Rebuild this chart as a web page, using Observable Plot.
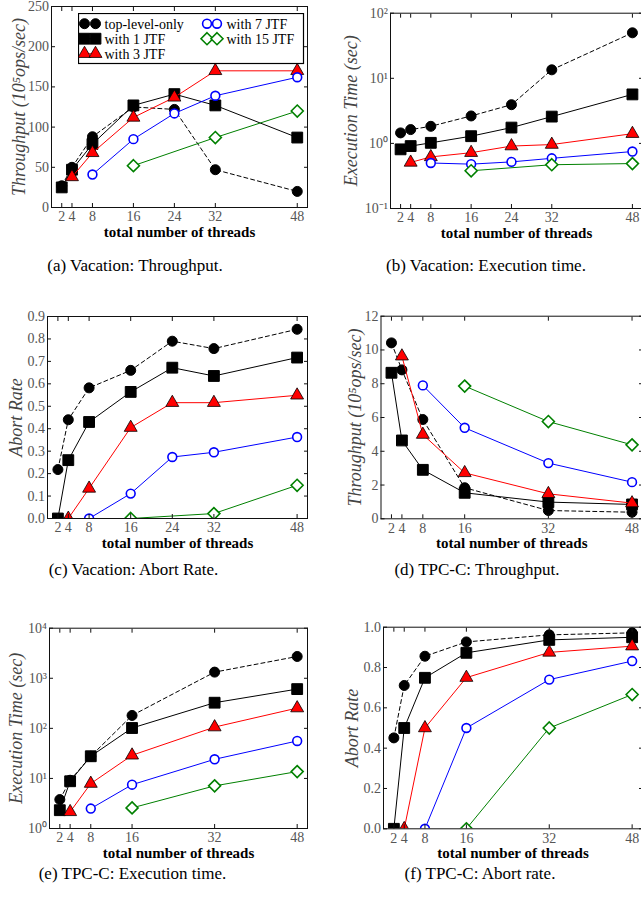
<!DOCTYPE html>
<html><head><meta charset="utf-8">
<script src="https://cdn.jsdelivr.net/npm/d3@7"></script>
<script src="https://cdn.jsdelivr.net/npm/@observablehq/plot@0.6"></script>
<style>
html,body{margin:0;padding:0;background:#fff;overflow:hidden;}
#root{position:relative;width:641px;height:897px;overflow:hidden;background:#fff;}
.cap{position:absolute;font-family:"Liberation Serif","Times New Roman",serif;font-size:17px;color:#000;transform:translate(-50%,-50%);white-space:nowrap;}
</style></head>
<body><div id="root"></div>
<script>
// ---------- data ----------
const seriesNames = ["top-level-only", "with 1 JTF", "with 3 JTF", "with 7 JTF", "with 15 JTF"];
const vacThreads = [2, 4, 8, 16, 24, 32, 48];
const tpccThreads = [2, 4, 8, 16, 32, 48];

// Vacation throughput (10^5 ops/sec)
const vacThroughput = [
  [27, 50, 88, 125, 122, 47, 20],
  [25, 47, 79, 127, 141, 127, 87],
  [null, 38, 68, 112, 137, 170, 170],
  [null, null, 41, 85, 117, 139, 162],
  [null, null, null, 52, null, 87, 120]
];
// Vacation execution time (sec)
const vacTime = [
  [1.45, 1.63, 1.83, 2.64, 3.93, 13.5, 50],
  [0.81, 0.91, 1.02, 1.29, 1.75, 2.58, 5.66],
  [null, 0.51, 0.62, 0.72, 0.91, 0.96, 1.41],
  [null, null, 0.50, 0.48, 0.52, 0.59, 0.75],
  [null, null, null, 0.38, null, 0.47, 0.49]
];
// Vacation abort rate
const vacAbort = [
  [0.218, 0.44, 0.582, 0.66, 0.79, 0.757, 0.843],
  [0, 0.26, 0.43, 0.564, 0.672, 0.635, 0.717],
  [null, 0, 0.134, 0.405, 0.516, 0.516, 0.549],
  [null, null, 0, 0.111, 0.274, 0.295, 0.363],
  [null, null, null, 0, null, 0.022, 0.148]
];
// TPC-C throughput (10^5 ops/sec)
const tpccThroughput = [
  [10.42, 8.82, 5.88, 1.84, 0.49, 0.39],
  [8.65, 4.64, 2.9, 1.54, 0.99, 0.85],
  [null, 9.63, 4.99, 2.72, 1.48, 0.93],
  [null, null, 7.9, 5.39, 3.3, 2.17],
  [null, null, null, 7.86, 5.76, 4.38]
];
// TPC-C execution time (sec)
const tpccTime = [
  [3.78, 9.2, 27.7, 181, 1327, 2724],
  [2.32, 8.78, 27.7, 101.6, 325, 608],
  [null, 2.15, 7.9, 29, 106, 254],
  [null, null, 2.5, 7.5, 24.1, 56],
  [null, null, null, 2.58, 7.1, 13.7]
];
// TPC-C abort rate
const tpccAbort = [
  [0.451, 0.711, 0.856, 0.927, 0.962, 0.972],
  [0, 0.5, 0.749, 0.873, 0.937, 0.95],
  [null, 0, 0.5, 0.75, 0.875, 0.906],
  [null, null, 0, 0.5, 0.74, 0.832],
  [null, null, null, 0, 0.5, 0.666]
];

const linTicks250 = [0, 50, 100, 150, 200, 250];
const logTicksVac = [0.1, 1, 10, 100];
const abortTicksVac = [0, 0.1, 0.2, 0.3, 0.4, 0.5, 0.6, 0.7, 0.8, 0.9];
const linTicks12 = [0, 2, 4, 6, 8, 10, 12];
const logTicksTpcc = [1, 10, 100, 1000, 10000];
const abortTicksTpcc = [0, 0.2, 0.4, 0.6, 0.8, 1.0];

const captions = [
  "(a) Vacation: Throughput.", "(b) Vacation: Execution time.",
  "(c) Vacation: Abort Rate.", "(d) TPC-C: Throughput.",
  "(e) TPC-C: Execution time.", "(f) TPC-C: Abort rate."
];

// ---------- styles ----------
const styles = [
  {stroke: "#000", dash: "4,3", symbol: "circle", fill: "#000", mstroke: "#000", r: 5, msw: 1},
  {stroke: "#000", dash: null, symbol: "square", fill: "#000", mstroke: "#000", r: 6.1, msw: 1},
  {stroke: "#ff0000", dash: null, symbol: "triangle", fill: "#ff0000", mstroke: "#000", r: 4.8, msw: 0.8},
  {stroke: "#0000ff", dash: null, symbol: "circle", fill: "#fff", mstroke: "#0000ff", r: 4.4, msw: 1.6},
  {stroke: "#008000", dash: null, symbol: "diamond2", fill: "#fff", mstroke: "#008000", r: 5.4, msw: 1.6}
];

const sup = {"0":"⁰","1":"¹","2":"²","3":"³","4":"⁴","-":"⁻"};
const logFmt = v => "10" + String(Math.round(Math.log10(v))).split("").map(c => sup[c]).join("");

const root = document.getElementById("root");
const FONT = '"Liberation Serif","Times New Roman",serif';

function panel(o) {
  const rows = [];
  o.values.forEach((arr, s) => arr.forEach((v, i) => {
    if (v != null) rows.push({s, name: seriesNames[s], x: o.threads[i], y: v});
  }));
  const marks = [];
  styles.forEach((st, s) => {
    const d = rows.filter(r => r.s === s);
    marks.push(Plot.line(d, {x: "x", y: "y", stroke: st.stroke, strokeWidth: 1, strokeDasharray: st.dash, clip: true}));
    marks.push(Plot.dot(d, {x: "x", y: "y", symbol: st.symbol, r: st.r, fill: st.fill, stroke: st.mstroke, strokeWidth: st.msw, clip: true}));
  });
  marks.push(
    Plot.frame({stroke: "#111", strokeWidth: 1}),
    Plot.axisX({ticks: o.threads, tickSize: -4, tickPadding: 8, tickFormat: d3.format("d"), label: null, fill: "#555", stroke: "#111", fontSize: 14}),
    Plot.axisX({anchor: "top", ticks: o.threads, tickSize: -4, tickFormat: () => "", label: null, stroke: "#111"}),
    Plot.axisY({ticks: o.yTicks, tickSize: -4, tickPadding: 6.5, tickFormat: o.yFormat, label: null, fill: "#555", stroke: "#111", fontSize: 14}),
    Plot.axisY({anchor: "right", ticks: o.yTicks, tickSize: -4, tickFormat: () => "", label: null, stroke: "#111"}),
    Plot.text(["total number of threads"], {text: d => d, frameAnchor: "bottom", dy: 24.5, lineAnchor: "middle", fontWeight: "bold", fontSize: 15, fill: "#000"}),
    Plot.text([o.ylabel], {text: d => d, frameAnchor: "left", rotate: -90, dx: o.ylabelDx, textAnchor: "middle", lineAnchor: "middle", fontStyle: "italic", fontSize: 18, fill: "#444"})
  );
  const svg = Plot.plot({
    width: o.width, height: o.height,
    marginLeft: o.mL, marginRight: o.mR, marginTop: o.mT, marginBottom: o.mB,
    x: {domain: [0, 50]},
    y: o.yType === "log" ? {type: "log", domain: o.yDomain} : {domain: o.yDomain},
    style: {fontFamily: FONT, fontSize: "14px", background: "transparent", overflow: "visible"},
    marks
  });
  svg.style.position = "absolute";
  svg.style.left = o.left + "px";
  svg.style.top = o.top + "px";
  root.appendChild(svg);
}

panel({left: 0, top: 0, width: 320, height: 245, mL: 51, mR: 13, mT: 6, mB: 38,
  threads: vacThreads, values: vacThroughput, yDomain: [0, 250], yTicks: linTicks250, yFormat: d3.format("d"),
  ylabel: "Throughput (10⁵ops/sec)", ylabelDx: -32});
panel({left: 320, top: 0, width: 323, height: 245, mL: 70, mR: 1, mT: 12.7, mB: 37,
  threads: vacThreads, values: vacTime, yType: "log", yDomain: [0.1, 100], yTicks: logTicksVac, yFormat: logFmt,
  ylabel: "Execution Time (sec)", ylabelDx: -39});
panel({left: 0, top: 300, width: 320, height: 250, mL: 47, mR: 13, mT: 16, mB: 32,
  threads: vacThreads, values: vacAbort, yDomain: [0, 0.9], yTicks: abortTicksVac, yFormat: d3.format(".1f"),
  ylabel: "Abort Rate", ylabelDx: -31});
panel({left: 320, top: 300, width: 323, height: 250, mL: 60.5, mR: 1, mT: 15.7, mB: 31.7,
  threads: tpccThreads, values: tpccThroughput, yDomain: [0, 12], yTicks: linTicks12, yFormat: d3.format("d"),
  ylabel: "Throughput (10⁵ops/sec)", ylabelDx: -26});
panel({left: 0, top: 600, width: 320, height: 250, mL: 49, mR: 13, mT: 27.7, mB: 22,
  threads: tpccThreads, values: tpccTime, yType: "log", yDomain: [1, 10000], yTicks: logTicksTpcc, yFormat: logFmt,
  ylabel: "Execution Time (sec)", ylabelDx: -33});
panel({left: 320, top: 600, width: 323, height: 250, mL: 63, mR: 1, mT: 26.7, mB: 21.7,
  threads: tpccThreads, values: tpccAbort, yDomain: [0, 1], yTicks: abortTicksTpcc, yFormat: d3.format(".1f"),
  ylabel: "Abort Rate", ylabelDx: -31});

// ---------- legend (inside panel a) ----------
(function legend() {
  const symMap = {circle: d3.symbolCircle, square: d3.symbolSquare, triangle: d3.symbolTriangle, diamond2: d3.symbolDiamond2};
  const W = 226, H = 51;
  const svg = d3.create("svg").attr("width", W + 1).attr("height", H + 1)
    .style("position", "absolute").style("left", "77.5px").style("top", "13px");
  svg.append("rect").attr("x", 0.5).attr("y", 0.5).attr("width", W - 1).attr("height", H - 1)
    .attr("fill", "#fff").attr("stroke", "#000").attr("stroke-width", 1.2);
  const slots = [[0, 0], [0, 1], [0, 2], [1, 0], [1, 1]];
  const colX = [[6.5, 17.5, 26.5], [129, 139, 148.5]];
  const rowY = [10.7, 25.7, 40.7];
  styles.forEach((st, s) => {
    const [c, r] = slots[s];
    const [m1, m2, tx] = colX[c];
    const y = rowY[r];
    const g = svg.append("g");
    g.append("line").attr("x1", m1).attr("x2", m2).attr("y1", y).attr("y2", y)
      .attr("stroke", st.stroke).attr("stroke-width", 1).attr("stroke-dasharray", st.dash);
    const path = d3.symbol(symMap[st.symbol], Math.PI * st.r * st.r)();
    [m1, m2].forEach(mx => g.append("path").attr("d", path).attr("transform", `translate(${mx},${y})`)
      .attr("fill", st.fill).attr("stroke", st.mstroke).attr("stroke-width", st.msw));
    g.append("text").attr("x", tx).attr("y", y).attr("dy", "0.35em")
      .attr("font-family", FONT).attr("font-size", 14).attr("fill", "#000").text(seriesNames[s]);
  });
  root.appendChild(svg.node());
})();

// ---------- captions ----------
const capPos = [[135, 266], [486, 266], [133.5, 570], [477, 570], [132.5, 874], [480, 874]];
captions.forEach((t, i) => {
  const d = document.createElement("div");
  d.className = "cap";
  d.textContent = t;
  d.style.left = capPos[i][0] + "px";
  d.style.top = capPos[i][1] + "px";
  root.appendChild(d);
});
</script>
</body></html>
